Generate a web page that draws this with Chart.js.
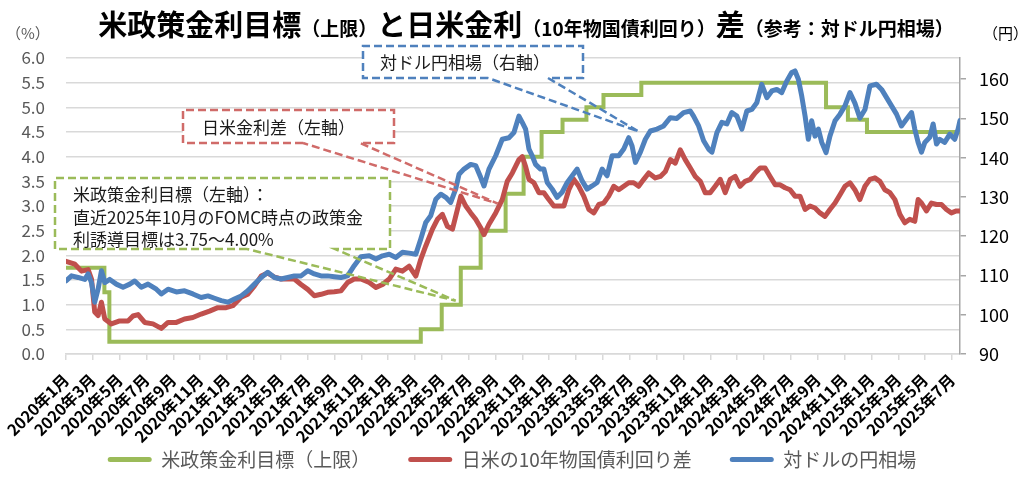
<!DOCTYPE html>
<html><head><meta charset="utf-8">
<script src="https://cdn.jsdelivr.net/npm/chart.js@4.4.1/dist/chart.umd.min.js"></script>
<style>html,body{margin:0;padding:0;background:#fff;}canvas{display:block;}</style>
</head><body>
<canvas id="c" width="1024" height="479"></canvas>
<script>
// ---- tick labels (every 2 months; x unit = months since 2020年1月) ----
const xLabels = ['2020年1月','2020年3月','2020年5月','2020年7月','2020年9月','2020年11月',
 '2021年1月','2021年3月','2021年5月','2021年7月','2021年9月','2021年11月',
 '2022年1月','2022年3月','2022年5月','2022年7月','2022年9月','2022年11月',
 '2023年1月','2023年3月','2023年5月','2023年7月','2023年9月','2023年11月',
 '2024年1月','2024年3月','2024年5月','2024年7月','2024年9月','2024年11月',
 '2025年1月','2025年3月','2025年5月','2025年7月'];

// ---- 米政策金利目標（上限）: step changes (x = month position, y = %) ----
const rateX = [0,2.86,3.23,26.43,27.99,29.41,30.89,32.75,34.09,35.43,36.99,38.77,40.04,42.86,56.62,58.25,59.67,66.6];
const rateY = [1.75,1.25,0.25,0.5,1.0,1.75,2.5,3.25,4.0,4.5,4.75,5.0,5.25,5.5,5.0,4.75,4.5,4.5];

// ---- 日米の10年物国債利回り差 (%) ----
const spreadX = [0,0.66,1.15,1.65,1.90,2.14,2.39,2.64,2.89,3.38,4.00,4.62,4.99,5.37,5.86,6.48,7.10,7.60,8.22,8.83,9.45,10.07,10.69,11.31,11.93,12.43,13.05,13.54,14.04,14.54,15.03,15.53,16.02,16.52,17.01,17.51,18.01,18.50,19.00,19.49,19.99,20.48,20.98,21.47,21.97,
 22.59,23.09,23.58,24.08,24.57,25.07,25.56,26.06,26.43,26.80,27.30,27.67,28.04,28.41,28.79,29.16,29.41,29.78,30.15,30.52,30.89,31.14,31.51,32.01,32.50,32.87,33.25,33.74,33.99,34.24,34.49,34.86,35.23,35.60,35.97,36.34,36.72,37.09,37.46,37.83,38.20,38.57,38.95,39.32,39.69,40.06,40.43,40.81,41.18,41.55,41.92,42.29,42.66,43.04,43.41,
 43.90,44.28,44.65,45.02,45.39,45.76,46.13,46.51,46.88,47.25,47.62,47.99,48.36,48.74,49.11,49.48,49.85,50.22,50.59,50.97,51.34,51.71,52.08,52.45,52.83,53.20,53.57,53.94,54.31,54.68,55.06,55.43,55.80,56.17,56.54,56.91,57.29,57.66,58.03,58.40,58.77,59.14,59.52,59.89,60.26,60.63,61.00,61.38,61.75,62.12,62.49,62.86,63.23,63.48,63.73,64.10,64.47,64.85,65.22,65.59,65.96,66.33,66.60];
const spreadY = [1.88,1.82,1.68,1.71,1.52,0.85,0.78,1.05,0.71,0.61,0.67,0.67,0.77,0.80,0.64,0.61,0.52,0.64,0.64,0.71,0.74,0.81,0.87,0.94,0.94,0.98,1.15,1.21,1.38,1.58,1.64,1.56,1.52,1.52,1.52,1.41,1.31,1.18,1.21,1.25,1.26,1.28,1.45,1.52,1.52,
 1.45,1.35,1.41,1.52,1.72,1.68,1.78,1.58,1.92,2.19,2.53,2.73,2.83,2.59,2.53,2.93,3.20,3.00,2.86,2.73,2.56,2.42,2.63,2.86,3.13,3.50,3.67,3.94,4.00,3.80,3.54,3.47,3.27,3.27,3.13,3.00,3.00,3.00,3.33,3.54,3.40,3.20,2.93,2.86,3.03,3.06,3.20,3.40,3.33,3.40,3.47,3.47,3.40,3.54,3.67,
 3.57,3.60,3.70,3.94,3.87,4.14,3.94,3.77,3.60,3.50,3.27,3.27,3.40,3.54,3.27,3.54,3.60,3.40,3.50,3.54,3.67,3.77,3.77,3.60,3.43,3.43,3.37,3.33,3.20,3.20,2.93,3.00,2.96,2.86,2.79,2.93,3.06,3.23,3.40,3.47,3.33,3.13,3.40,3.54,3.57,3.50,3.33,3.27,3.13,2.83,2.66,2.73,2.69,3.13,3.06,2.90,3.06,3.03,3.03,2.93,2.86,2.90,2.90];

// ---- 対ドルの円相場 (円) ----
const usdjpyX = [0,0.41,0.90,1.40,1.65,1.90,2.14,2.39,2.64,2.89,3.26,3.75,4.25,4.75,5.12,5.61,6.11,6.73,7.10,7.60,8.22,8.83,9.45,10.07,10.57,11.07,11.56,12.06,12.55,13.05,13.54,14.04,14.54,15.03,15.53,16.02,16.52,17.01,17.51,18.01,18.50,19.00,19.49,19.99,20.48,20.98,21.47,21.97,
 22.59,23.09,23.58,24.08,24.57,25.07,25.56,26.06,26.43,26.80,27.17,27.55,27.92,28.29,28.66,29.03,29.28,29.65,30.15,30.52,30.89,31.14,31.51,32.01,32.50,33.00,33.37,33.74,33.99,34.24,34.49,34.73,34.98,35.35,35.60,35.85,36.22,36.59,36.96,37.34,37.71,38.08,38.45,38.82,39.19,39.57,39.94,40.31,40.68,41.18,41.55,41.92,42.17,42.42,42.79,43.16,43.53,
 44.03,44.52,45.02,45.51,46.01,46.51,46.75,47.13,47.50,47.87,48.12,48.49,48.86,49.23,49.60,49.98,50.35,50.72,51.09,51.46,51.83,52.21,52.58,52.95,53.32,53.69,54.06,54.31,54.56,54.81,55.06,55.30,55.55,55.80,56.05,56.30,56.62,56.91,57.29,57.66,58.03,58.40,58.77,59.14,59.52,59.89,60.38,60.76,61.13,61.50,61.87,62.24,62.61,62.99,63.23,63.48,63.73,63.98,64.35,64.60,64.85,65.09,65.46,65.84,66.21,66.46,66.60];
const usdjpyY = [108.65,109.9,109.5,109.0,110.4,108.2,103.2,106.5,111.2,108.2,109.0,107.8,107.0,107.8,108.6,107.0,107.8,106.5,105.3,106.5,105.8,106.1,105.3,104.4,104.8,104.2,103.6,103.2,104.0,104.8,106.1,107.8,109.5,110.8,109.5,109.1,109.5,109.9,109.9,111.2,110.4,109.9,109.9,109.7,109.5,109.9,112.5,114.8,
 115.0,114.2,115.0,115.4,114.6,115.9,115.7,115.4,119.3,123.5,125.2,129.4,130.7,129.9,128.6,132.0,135.8,137.1,138.3,138.0,135.0,132.8,137.1,140.5,144.7,145.1,146.4,150.6,149.0,147.3,142.2,140.5,138.3,137.1,137.1,133.7,132.0,129.9,131.2,133.7,135.4,137.1,134.1,132.0,132.8,133.7,137.1,135.4,140.5,140.5,142.2,145.1,143.0,138.8,141.4,144.7,146.8,
 147.3,148.1,150.2,150.0,151.5,151.9,150.6,148.1,144.3,142.2,141.4,146.4,149.0,148.6,151.5,150.6,147.3,151.9,152.3,154.0,158.7,155.3,157.0,157.4,156.6,159.5,161.7,162.1,160.0,155.7,150.6,144.7,149.4,145.5,147.3,143.9,141.3,145.5,149.4,151.1,153.2,156.6,153.9,150.1,152.3,158.3,158.7,157.4,155.3,153.2,151.1,148.1,149.8,151.5,147.3,143.9,141.4,143.9,145.2,148.6,143.5,144.7,143.9,146.0,144.7,147.3,149.5];

const seriesNames = ['米政策金利目標（上限）','日米の10年物国債利回り差','対ドルの円相場'];
const colors = ['#9BBB59','#C0504D','#4F81BD'];

const JP = "'Noto Sans CJK JP','Noto Sans',sans-serif";
Chart.defaults.font.family = JP;
const pts = (xs, ys) => xs.map((x, i) => ({x, y: ys[i]}));

const decorPlugin = {
  id: 'decor',
  afterDatasetsDraw(chart) {
    const {ctx, scales} = chart;
    const sx = scales.x, sy = scales.y, sy2 = scales.y2;
    const callouts = [
      {color:'#4F81BD', l:363, t:46, r:583, b:78, b1:488, b2:548,
       tip:[sx.getPixelForValue(42.64), sy2.getPixelForValue(146.7)],
       lines:['対ドル円相場（右軸）'], tx:380, ty:[63]},
      {color:'#D06B69', l:183, t:110, r:394, b:143, b1:303, b2:360,
       tip:[sx.getPixelForValue(32.16), sy.getPixelForValue(3.05)],
       lines:['日米金利差（左軸）'], tx:202, ty:[128]},
      {color:'#9BBB59', l:55, t:178, r:390, b:249, b1:247, b2:335,
       tip:[sx.getPixelForValue(29.03), sy.getPixelForValue(1.08)],
       lines:['米政策金利目標（左軸）：','直近2025年10月のFOMC時点の政策金','利誘導目標は3.75～4.00%'], tx:73, ty:[195,218,240]}
    ];
    callouts.forEach(c => {
      ctx.save();
      ctx.fillStyle = '#fff';
      ctx.fillRect(c.l, c.t, c.r - c.l, c.b - c.t);
      ctx.setLineDash([8, 4]);
      ctx.lineWidth = 2.5;
      ctx.strokeStyle = c.color;
      ctx.beginPath();
      ctx.moveTo(c.b1, c.b); ctx.lineTo(c.l, c.b); ctx.lineTo(c.l, c.t);
      ctx.lineTo(c.r, c.t); ctx.lineTo(c.r, c.b); ctx.lineTo(c.b2, c.b);
      ctx.lineTo(c.tip[0], c.tip[1]); ctx.lineTo(c.b1, c.b);
      ctx.stroke();
      ctx.setLineDash([]);
      ctx.fillStyle = '#1a1a1a';
      ctx.font = '17px ' + JP;
      ctx.textBaseline = 'middle';
      ctx.textAlign = 'left';
      c.lines.forEach((s, i) => ctx.fillText(s, c.tx, c.ty[i]));
      ctx.restore();
    });
  },
  afterDraw(chart) {
    const ctx = chart.ctx;
    ctx.save();
    const segs = [['米政策金利目標',1],['（上限）',0],['と日米金利',1],['（10年物国債利回り）',0],['差',1],['（参考：対ドル円相場）',0]];
    const big = 'bold 29px ' + JP, small = 'bold 19px ' + JP;
    let total = 0;
    segs.forEach(s => { ctx.font = s[1] ? big : small; s.w = ctx.measureText(s[0]).width; total += s.w; });
    let x = 526 - total / 2;
    ctx.fillStyle = '#000';
    ctx.textBaseline = 'alphabetic';
    ctx.textAlign = 'left';
    segs.forEach(s => { ctx.font = s[1] ? big : small; ctx.fillText(s[0], x, 36); x += s.w; });
    ctx.font = '15px ' + JP;
    ctx.textBaseline = 'middle';
    ctx.fillStyle = '#595959';
    ctx.fillText('（%）', 6, 33);
    ctx.fillStyle = '#000';
    ctx.fillText('（円）', 983, 33);
    ctx.restore();
  }
};

new Chart(document.getElementById('c'), {
  type: 'line',
  data: {
    datasets: [
      {label: seriesNames[0], data: pts(rateX, rateY), yAxisID: 'y', stepped: true,
       borderColor: colors[0], backgroundColor: colors[0], borderWidth: 4, pointRadius: 0, order: 3},
      {label: seriesNames[1], data: pts(spreadX, spreadY), yAxisID: 'y',
       borderColor: colors[1], backgroundColor: colors[1], borderWidth: 5, pointRadius: 0, order: 2,
       borderJoinStyle: 'round', borderCapStyle: 'round'},
      {label: seriesNames[2], data: pts(usdjpyX, usdjpyY), yAxisID: 'y2',
       borderColor: colors[2], backgroundColor: colors[2], borderWidth: 5, pointRadius: 0, order: 1,
       borderJoinStyle: 'round', borderCapStyle: 'round'}
    ]
  },
  options: {
    responsive: false,
    animation: false,
    devicePixelRatio: 1,
    layout: {padding: {top: 58, left: 0, right: 0, bottom: 0}},
    scales: {
      x: {
        type: 'linear', min: 0, max: 66.6,
        afterBuildTicks: (axis) => { axis.ticks = xLabels.map((_, i) => ({value: i * 2})); },
        afterFit: (axis) => {
          axis.height = 58;
          // let the rotated labels extend below the (short) axis box instead of being clipped
          axis._computeLabelArea = () => undefined;
        },
        ticks: {
          autoSkip: false, maxRotation: 45, minRotation: 45, padding: 10,
          color: '#000', font: {size: 16, weight: 'bold'},
          callback: (v, i) => xLabels[i]
        },
        grid: {drawOnChartArea: false, drawTicks: true, tickLength: 6, color: '#d9d9d9', lineWidth: 1.5},
        border: {display: true, color: '#d9d9d9', width: 1.5}
      },
      y: {
        position: 'left', min: 0, max: 6,
        afterFit: (axis) => { axis.width = 64; },
        ticks: {stepSize: 0.5, color: '#595959', font: {size: 17}, padding: 21,
                callback: (v) => v.toFixed(1)},
        grid: {color: '#d9d9d9', lineWidth: 1.5, drawTicks: false},
        border: {display: false}
      },
      y2: {
        position: 'right', min: 90, max: 165.4,
        afterFit: (axis) => { axis.width = 64; },
        ticks: {stepSize: 10, includeBounds: false, color: '#000', font: {size: 18}, padding: 13},
        grid: {drawOnChartArea: false, drawTicks: true, tickLength: 6, color: '#a6a6a6', lineWidth: 1.5},
        border: {display: true, color: '#a6a6a6', width: 1.5}
      }
    },
    plugins: {
      tooltip: {enabled: false},
      legend: {
        position: 'bottom',
        labels: {
          font: {size: 19}, color: '#595959', boxWidth: 44, boxHeight: 5, padding: 38,
          useBorderRadius: true, borderRadius: 2.5,
          generateLabels: (chart) => {
            const items = Chart.defaults.plugins.legend.labels.generateLabels(chart);
            items.forEach(it => { it.lineWidth = 0; it.fillStyle = colors[it.datasetIndex]; });
            return items.sort((a, b) => a.datasetIndex - b.datasetIndex);
          }
        }
      }
    }
  },
  plugins: [decorPlugin]
});
</script>
</body></html>
